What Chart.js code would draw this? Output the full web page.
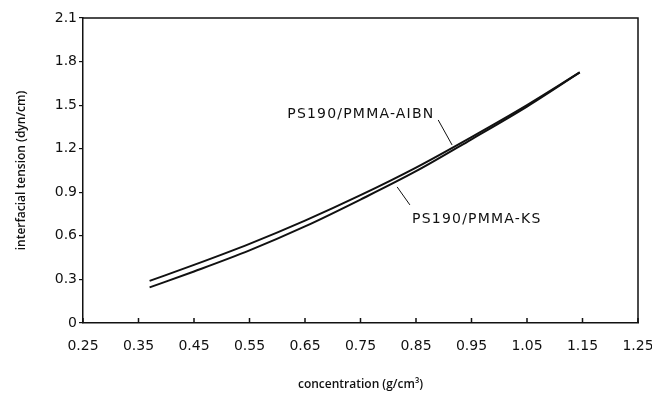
<!DOCTYPE html>
<html>
<head>
<meta charset="utf-8">
<script src="https://cdn.jsdelivr.net/npm/chart.js@4.4.1/dist/chart.umd.min.js"></script>
<style>
html,body{margin:0;padding:0;background:#fff;}
#wrap{width:652px;height:396px;}
</style>
</head>
<body>
<div id="wrap"><canvas id="c" width="652" height="396"></canvas></div>
<script>
// ---- data ----
const concentration = [0.37, 0.45, 0.55, 0.65, 0.75, 0.85, 0.95, 1.05, 1.145];
const tensionAIBN   = [0.29, 0.40, 0.545, 0.705, 0.88, 1.07, 1.28, 1.50, 1.725];
const tensionKS     = [0.245, 0.355, 0.50, 0.665, 0.85, 1.045, 1.265, 1.49, 1.725];
const xTickValues = [0.25, 0.35, 0.45, 0.55, 0.65, 0.75, 0.85, 0.95, 1.05, 1.15, 1.25];
const yTickValues = [0, 0.3, 0.6, 0.9, 1.2, 1.5, 1.8, 2.1];
const seriesNames = ['PS190/PMMA-AIBN', 'PS190/PMMA-KS'];
// label anchor (data coords) and leader lines (data coords)
const labelAIBN = {x: 0.618, y: 1.412, leader: [[0.890, 1.398], [0.915, 1.226]]};
const labelKS   = {x: 0.843, y: 0.689, leader: [[0.816, 0.937], [0.839, 0.813]]};

const ink = '#111';
const tickFont = {family: 'DejaVu Sans', size: 14};
const titleFont = {family: 'Open Sans', size: 12, weight: '600'};

function toPts(xs, ys){ return xs.map((x,i)=>({x:x, y:ys[i]})); }

const decor = {
  id: 'decor',
  afterDraw(chart){
    const ctx = chart.ctx, a = chart.chartArea;
    const xs = chart.scales.x, ys = chart.scales.y;
    ctx.save();
    ctx.strokeStyle = ink;
    ctx.lineWidth = 1.5;
    // top and right frame
    ctx.beginPath();
    ctx.moveTo(a.left, a.top); ctx.lineTo(a.right, a.top); ctx.lineTo(a.right, a.bottom);
    ctx.stroke();
    // inward x ticks
    ctx.beginPath();
    xTickValues.forEach(v=>{
      const px = xs.getPixelForValue(v);
      ctx.moveTo(px, a.bottom); ctx.lineTo(px, a.bottom - 5);
    });
    ctx.stroke();
    // leaders
    ctx.lineWidth = 1;
    [labelAIBN, labelKS].forEach(l=>{
      ctx.beginPath();
      ctx.moveTo(xs.getPixelForValue(l.leader[0][0]), ys.getPixelForValue(l.leader[0][1]));
      ctx.lineTo(xs.getPixelForValue(l.leader[1][0]), ys.getPixelForValue(l.leader[1][1]));
      ctx.stroke();
    });
    // labels
    ctx.fillStyle = ink;
    ctx.font = '14px "DejaVu Sans"';
    if ('letterSpacing' in ctx) ctx.letterSpacing = '1.2px';
    ctx.textBaseline = 'alphabetic';
    ctx.textAlign = 'left';
    ctx.fillText(seriesNames[0], xs.getPixelForValue(labelAIBN.x), ys.getPixelForValue(labelAIBN.y));
    ctx.fillText(seriesNames[1], xs.getPixelForValue(labelKS.x), ys.getPixelForValue(labelKS.y));
    ctx.restore();
  }
};

new Chart(document.getElementById('c'), {
  type: 'line',
  data: {
    datasets: [
      {label: seriesNames[0], data: toPts(concentration, tensionAIBN), borderColor: ink, borderWidth: 2, pointRadius: 0, cubicInterpolationMode: 'monotone', fill: false},
      {label: seriesNames[1], data: toPts(concentration, tensionKS), borderColor: ink, borderWidth: 2, pointRadius: 0, cubicInterpolationMode: 'monotone', fill: false}
    ]
  },
  options: {
    responsive: false,
    animation: false,
    devicePixelRatio: 1,
    layout: {padding: {left: 0, right: 14, top: 18, bottom: 0}},
    plugins: {legend: {display: false}, tooltip: {enabled: false}},
    scales: {
      x: {
        type: 'linear', min: 0.25, max: 1.25,
        afterBuildTicks(s){ s.ticks = xTickValues.map(v=>({value:v})); },
        afterFit(s){ s.height = 73; s.paddingLeft = 0; s.paddingRight = 0; },
        border: {display: true, color: ink, width: 1.5},
        grid: {drawOnChartArea: false, drawTicks: false},
        ticks: {color: ink, font: tickFont, padding: 15, maxRotation: 0, autoSkip: false,
          callback: v => Number(v).toFixed(2)},
        title: {display: true, text: 'concentration (g/cm³)', color: ink, font: titleFont, padding: {top: 0, bottom: 4}}
      },
      y: {
        type: 'linear', min: 0, max: 2.1,
        afterBuildTicks(s){ s.ticks = yTickValues.map(v=>({value:v})); },
        afterFit(s){ s.width = 83; s.paddingTop = 0; s.paddingBottom = 0; },
        border: {display: true, color: ink, width: 1.5},
        grid: {drawOnChartArea: false, drawTicks: true, tickLength: 4, color: ink, lineWidth: 1.2},
        ticks: {color: ink, font: tickFont, padding: 2, autoSkip: false,
          callback: v => v === 0 ? '0' : Number(v).toFixed(1)},
        title: {display: true, text: 'interfacial tension (dyn/cm)', color: ink, font: titleFont, padding: {top: 14, bottom: 0}}
      }
    }
  },
  plugins: [decor]
});
</script>
</body>
</html>
